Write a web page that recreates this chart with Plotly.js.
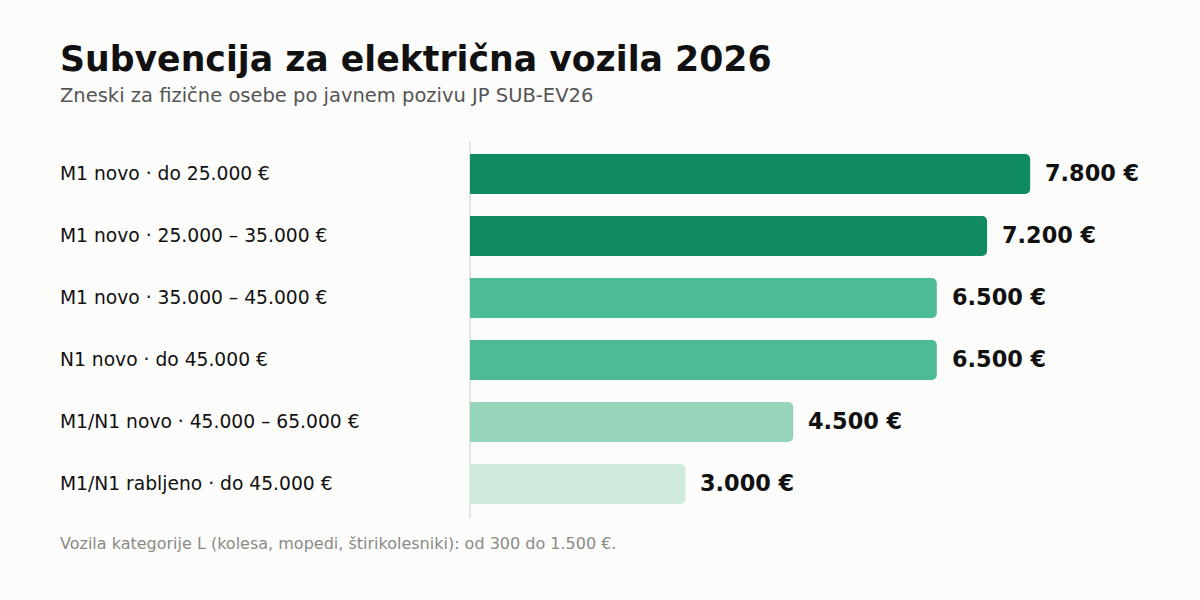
<!DOCTYPE html>
<html>
<head>
<meta charset="utf-8">
<script src="https://cdn.plot.ly/plotly-3.0.1.min.js"></script>
<style>
  html, body { margin: 0; padding: 0; background: #fcfcfb; }
  #chart { width: 1200px; height: 600px; }
</style>
</head>
<body>
<div id="chart"></div>
<script>
const categories = [
    'M1 novo · do 25.000 €',
    'M1 novo · 25.000 – 35.000 €',
    'M1 novo · 35.000 – 45.000 €',
    'N1 novo · do 45.000 €',
    'M1/N1 novo · 45.000 – 65.000 €',
    'M1/N1 rabljeno · do 45.000 €'
];
const amounts = [7800, 7200, 6500, 6500, 4500, 3000];
const valueLabels = ['7.800 €', '7.200 €', '6.500 €', '6.500 €', '4.500 €', '3.000 €'];
const barColors = ['#108b5f', '#108b5f', '#4dbb93', '#4dbb93', '#96d4b9', '#cfe9dd'];

const fontFamily = '"DejaVu Sans", Verdana, sans-serif';

const barTrace = {
    type: 'bar',
    orientation: 'h',
    x: amounts,
    y: categories,
    marker: { color: barColors, cornerradius: 5 },
    hoverinfo: 'none'
};

const annotations = [];
categories.forEach((cat, i) => {
    // category label, left aligned at the page margin
    annotations.push({
        xref: 'paper', yref: 'y',
        x: 0, y: cat,
        xanchor: 'left', yanchor: 'middle',
        xshift: -412,
        yshift: 1,
        text: cat,
        showarrow: false,
        font: { family: fontFamily, size: 18.7, color: '#111111' }
    });
    // value label after the bar
    annotations.push({
        xref: 'x', yref: 'y',
        x: amounts[i], y: cat,
        xanchor: 'left', yanchor: 'middle',
        xshift: 13,
        yshift: 1,
        text: '<b>' + valueLabels[i] + '</b>',
        showarrow: false,
        font: { family: fontFamily, size: 22.4, color: '#111111' }
    });
});

// titles and footnote
annotations.push({
    xref: 'paper', yref: 'paper', x: 0, y: 1, xshift: -412, yshift: 84,
    xanchor: 'left', yanchor: 'middle',
    text: '<b>Subvencija za električna vozila 2026</b>',
    showarrow: false,
    font: { family: fontFamily, size: 34.7, color: '#111111' }
});
annotations.push({
    xref: 'paper', yref: 'paper', x: 0, y: 1, xshift: -412, yshift: 48,
    xanchor: 'left', yanchor: 'middle',
    text: 'Zneski za fizične osebe po javnem pozivu JP SUB-EV26',
    showarrow: false,
    font: { family: fontFamily, size: 19.5, color: '#555555' }
});
annotations.push({
    xref: 'paper', yref: 'paper', x: 0, y: 0, xshift: -412, yshift: -17,
    xanchor: 'left', yanchor: 'top',
    text: 'Vozila kategorije L (kolesa, mopedi, štirikolesniki): od 300 do 1.500 €.',
    showarrow: false,
    font: { family: fontFamily, size: 16, color: '#8a8a86' }
});

const layout = {
    width: 1200,
    height: 600,
    paper_bgcolor: '#fcfcfb',
    plot_bgcolor: '#fcfcfb',
    margin: { l: 470, r: 98, t: 143, b: 85 },
    bargap: 0.355,
    showlegend: false,
    xaxis: {
        range: [0, 8800],
        showgrid: false,
        zeroline: false,
        showticklabels: false,
        showline: false,
        fixedrange: true
    },
    yaxis: {
        autorange: 'reversed',
        showticklabels: false,
        showgrid: false,
        zeroline: false,
        showline: false,
        fixedrange: true
    },
    shapes: [{
        type: 'line',
        xref: 'paper', yref: 'paper',
        x0: 0, x1: 0, y0: -0.008, y1: 1.005,
        line: { color: '#e4e4df', width: 2 },
        layer: 'below'
    }],
    annotations: annotations
};

Plotly.newPlot('chart', [barTrace], layout, { displayModeBar: false, staticPlot: true });
</script>
</body>
</html>
